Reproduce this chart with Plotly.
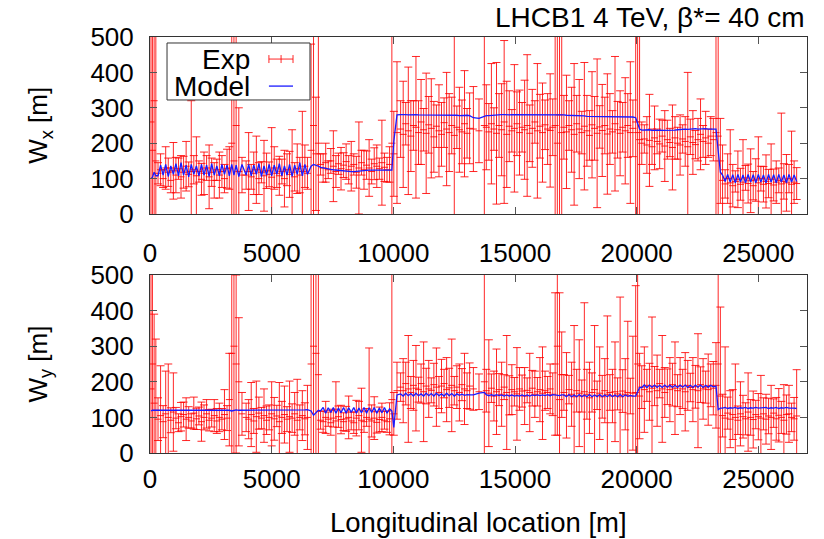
import plotly.graph_objects as go
from plotly.subplots import make_subplots

# ---------------- data ----------------
# longitudinal BPM positions [m]
s_pos = [
    40, 100, 170, 240,
    330, 435, 540, 645, 750, 855, 960, 1065, 1170, 1275, 1380, 1485, 1590, 1695, 1800, 1905, 2010, 2115, 2220, 2325,
    2430, 2535, 2640, 2745, 2850, 2955, 3060, 3165,
    3260, 3360, 3450, 3540, 3650, 3780,
    3950, 4055, 4160, 4265, 4370, 4475, 4580, 4685, 4790, 4895, 5000, 5105, 5210, 5315, 5420, 5525, 5630, 5735, 5840,
    5945, 6050, 6155, 6260, 6365, 6470,
    6620, 6720, 6820, 6920,
    7010, 7115, 7220, 7325, 7430, 7535, 7640, 7745, 7850, 7955, 8060, 8165, 8270, 8375, 8480, 8585, 8690, 8795, 8900,
    9005, 9110, 9215, 9320, 9425, 9530, 9635, 9740, 9845,
    9940, 10020, 10150,
    10300, 10405, 10510, 10615, 10720, 10825, 10930, 11035, 11140, 11245, 11350, 11455, 11560, 11665, 11770, 11875,
    11980, 12085, 12190, 12295, 12400, 12505, 12610, 12715, 12820, 12925, 13030, 13135,
    13290, 13520, 13740,
    13820, 13925, 14030, 14135, 14240, 14345, 14450, 14555, 14660, 14765, 14870, 14975, 15080, 15185, 15290, 15395,
    15500, 15605, 15710, 15815, 15920, 16025, 16130, 16235, 16340, 16445, 16550,
    16650, 16740, 16830, 16920,
    17010, 17115, 17220, 17325, 17430, 17535, 17640, 17745, 17850, 17955, 18060, 18165, 18270, 18375, 18480, 18585,
    18690, 18795, 18900, 19005, 19110, 19215, 19320, 19425, 19530, 19635, 19740, 19845,
    19960, 20040, 20120,
    20210, 20315, 20420, 20525, 20630, 20735, 20840, 20945, 21050, 21155, 21260, 21365, 21470, 21575, 21680, 21785,
    21890, 21995, 22100, 22205, 22310, 22415, 22520, 22625, 22730, 22835, 22940, 23045, 23150,
    23260, 23350, 23440,
    23530, 23635, 23740, 23845, 23950, 24055, 24160, 24265, 24370, 24475, 24580, 24685, 24790, 24895, 25000, 25105,
    25210, 25315, 25420, 25525, 25630, 25735, 25840, 25945, 26050, 26155, 26260, 26365, 26470, 26575,
]

# measured W_x [m] and its error
wx_exp = [
    260, 180, 320, 150,
    115, 125, 100, 130, 118, 95, 122, 110, 128, 105, 118, 135, 112, 120, 125, 108, 120, 98, 115, 130,
    105, 118, 95, 125, 110, 120, 100, 128,
    130, 200, 150, 250, 120, 110,
    110, 120, 105, 115, 125, 100, 118, 108, 122, 112, 104, 130, 115, 108, 120, 100, 125, 112, 118, 105,
    128, 110, 120, 135, 115,
    180, 250, 170, 200,
    140, 130, 145, 125, 150, 135, 120, 142, 128, 138, 148, 125, 135, 140, 118, 130, 145, 125, 138, 130,
    120, 142, 135, 128, 145, 132, 125, 140,
    200, 170, 230,
    240, 225, 255, 235, 220, 250, 245, 230, 260, 238, 228, 252, 242, 218, 248, 235, 225, 258, 240, 230,
    250, 222, 245, 238, 232, 255, 228, 242,
    240, 235, 250,
    245, 232, 255, 240, 228, 250, 238, 260, 225, 248, 235, 242, 255, 230, 245, 238, 250, 228, 242, 260,
    235, 248, 230, 252, 240, 236, 245,
    250, 200, 280, 230,
    245, 232, 250, 238, 225, 255, 240, 230, 248, 235, 222, 252, 242, 228, 246, 236, 250, 226, 240, 232,
    255, 238, 228, 245, 235, 250, 230, 242,
    260, 230, 210,
    200, 212, 195, 208, 190, 215, 205, 198, 220, 192, 210, 202, 188, 215, 200, 195, 212, 205, 190, 218,
    202, 196, 210, 225, 205, 215, 200, 220, 210,
    230, 220, 150,
    95, 85, 100, 88, 80, 92, 98, 84, 90, 102, 86, 94, 80, 96, 88, 100, 84, 92, 86, 98,
    82, 90, 95, 85, 92, 88, 100, 84, 90, 86,
]
wx_err = [
    600, 500, 700, 400,
    30, 45, 25, 60, 40, 35, 80, 50, 30, 60, 45, 70, 35, 200, 40, 110, 30, 45, 60, 35,
    90, 40, 50, 30, 65, 45, 40, 55,
    60, 320, 400, 300, 180, 50,
    40, 110, 35, 60, 95, 45, 30, 100, 50, 35, 140, 60, 40, 55, 35, 80, 45, 65, 120, 40,
    70, 50, 170, 60, 45,
    300, 400, 160, 350,
    30, 40, 55, 25, 35, 100, 45, 30, 60, 35, 50, 40, 70, 30, 45, 130, 35, 55, 40, 80,
    35, 45, 60, 30, 120, 40, 35, 50,
    400, 120, 200,
    80, 150, 60, 180, 100, 70, 200, 90, 120, 60, 170, 80, 140, 100, 60, 130, 90, 70, 160, 110,
    80, 350, 60, 120, 90, 150, 70, 100,
    120, 90, 400,
    120, 80, 170, 60, 200, 90, 130, 230, 150, 100, 60, 180, 90, 120, 70, 140, 200, 80, 110, 60,
    190, 90, 140, 70, 100, 160, 80,
    400, 350, 500, 300,
    90, 160, 70, 120, 200, 80, 140, 60, 180, 100, 70, 150, 90, 210, 60, 130, 80, 170, 100, 60,
    190, 80, 120, 70, 150, 90, 200, 80,
    400, 500, 450,
    60, 40, 80, 130, 50, 90, 35, 70, 45, 100, 55, 40, 120, 60, 45, 85, 40, 70, 210, 50,
    90, 40, 60, 100, 45, 75, 40, 55, 60,
    300, 400, 120,
    100, 40, 70, 150, 60, 30, 80, 45, 120, 35, 55, 90, 40, 60, 130, 35, 50, 75, 40, 100,
    45, 60, 35, 200, 50, 80, 40, 150, 60, 45,
]
# model W_x [m]
wx_model = [
    100, 104, 118, 108,
    108, 138, 110, 140, 106, 136, 112, 142, 108, 145, 110, 138, 105, 140, 112, 136, 108, 140, 110, 138,
    106, 142, 110, 136, 108, 140, 112, 138,
    108, 140, 110, 138, 106, 140,
    110, 140, 108, 138, 112, 142, 106, 136, 110, 140, 108, 138, 112, 142, 108, 136, 110, 140, 106, 138,
    112, 145, 108, 140, 112,
    135, 140, 138, 135,
    132, 130, 128, 127, 126, 125, 124, 124, 123, 122, 122, 121, 120, 120, 121, 122, 122, 123, 123, 124,
    124, 124, 125, 125, 124, 124, 124, 125,
    124, 205, 280,
    281, 282, 281, 280, 281, 282, 281, 280, 280, 279, 280, 281, 280, 279, 280, 280, 281, 280, 279, 280,
    281, 280, 279, 278, 279, 280, 279, 278,
    272, 270, 276,
    278, 278, 279, 280, 280, 280, 281, 281, 280, 280, 281, 281, 281, 280, 280, 281, 281, 282, 281, 281,
    280, 281, 282, 281, 280, 280, 281,
    281, 282, 280, 280,
    280, 279, 279, 278, 278, 278, 277, 277, 277, 276, 276, 276, 276, 276, 275, 275, 275, 275, 275, 274,
    274, 274, 274, 275, 275, 275, 274, 274,
    272, 258, 240,
    237, 238, 237, 238, 236, 237, 236, 237, 236, 236, 235, 237, 236, 237, 238, 239, 238, 240, 239, 240,
    239, 241, 240, 241, 240, 241, 240, 241, 240,
    240, 180, 118,
    110, 92, 112, 90, 111, 88, 112, 90, 110, 88, 112, 90, 111, 88, 112, 90, 110, 88, 112, 90,
    111, 88, 112, 90, 110, 88, 112, 90, 110, 92,
]

# measured W_y [m] and its error
wy_exp = [
    180, 250, 140, 120,
    95, 105, 88, 110, 100, 92, 115, 98, 85, 102, 108, 95, 100, 90, 112, 96, 104, 88, 100, 110,
    92, 98, 105, 90, 100, 95, 108, 98,
    150, 280, 300, 250, 200, 110,
    100, 95, 108, 90, 102, 112, 98, 105, 92, 100, 110, 96, 104, 88, 100, 108, 95, 102, 98, 110,
    92, 100, 105, 96, 100,
    250, 300, 280, 220,
    92, 88, 100, 95, 85, 98, 90, 102, 94, 88, 96, 100, 90, 85, 98, 105, 92, 88, 100, 95,
    90, 98, 86, 94, 100, 92, 88, 96,
    150, 110, 175,
    185, 175, 195, 180, 170, 190, 182, 178, 195, 172, 188, 180, 176, 192, 185, 170, 188, 195, 178, 183,
    190, 175, 185, 170, 192, 180, 175, 188,
    180, 172, 200,
    175, 168, 182, 160, 172, 178, 165, 185, 170, 162, 178, 172, 166, 180, 174, 160, 176, 170, 182, 165,
    172, 178, 168, 175, 170, 180, 165,
    250, 300, 150, 220,
    170, 162, 178, 165, 158, 175, 168, 160, 172, 165, 155, 170, 178, 162, 168, 158, 175, 165, 170, 160,
    172, 166, 158, 174, 165, 170, 160, 168,
    170, 250, 160,
    185, 178, 190, 172, 182, 188, 175, 195, 180, 170, 186, 178, 192, 182, 175, 188, 180, 172, 190, 184,
    178, 186, 175, 192, 180, 185, 178, 190, 182,
    190, 250, 160,
    105, 98, 112, 95, 108, 100, 92, 110, 102, 96, 115, 100, 94, 108, 102, 98, 110, 95, 104, 100,
    112, 96, 106, 100, 92, 108, 110, 100, 96, 104,
]
wy_err = [
    350, 300, 250, 200,
    60, 140, 45, 120, 150, 35, 110, 30, 25, 40, 35, 60, 30, 20, 45, 30, 25, 55, 35, 40,
    30, 25, 45, 35, 40, 30, 70, 35,
    130, 300, 350, 250, 180, 60,
    40, 55, 90, 35, 100, 45, 30, 75, 40, 35, 90, 60, 30, 110, 45, 80, 35, 100, 40, 60,
    115, 35, 70, 45, 90,
    400, 450, 400, 300,
    25, 30, 45, 20, 35, 25, 110, 30, 40, 25, 35, 60, 25, 30, 50, 40, 90, 30, 25, 200,
    45, 60, 30, 35, 40, 25, 30, 45,
    400, 60, 80,
    40, 90, 60, 150, 45, 70, 120, 35, 55, 140, 50, 80, 35, 60, 110, 45, 75, 40, 90, 55,
    130, 40, 60, 80, 45, 100, 50, 65,
    60, 50, 320,
    60, 150, 40, 70, 120, 45, 90, 35, 160, 55, 70, 40, 130, 60, 45, 80, 35, 110, 50, 65,
    40, 90, 130, 55, 45, 70, 60,
    200, 250, 300, 120,
    50, 120, 40, 90, 200, 60, 150, 45, 250, 70, 100, 55, 180, 40, 130, 60, 90, 220, 50, 75,
    140, 45, 280, 60, 100, 200, 50, 160,
    300, 500, 120,
    60, 120, 45, 80, 200, 55, 100, 40, 150, 70, 50, 90, 60, 130, 45, 80, 55, 110, 70, 40,
    90, 60, 160, 50, 85, 45, 100, 60, 75,
    120, 500, 250,
    60, 200, 45, 80, 70, 150, 40, 90, 60, 45, 110, 50, 80, 40, 65, 120, 45, 70, 50, 90,
    40, 60, 75, 45, 100, 55, 80, 40, 60, 130,
]
# model W_y [m]
wy_model = [
    118, 120, 120, 120,
    120, 120, 121, 120, 119, 120, 120, 121, 120, 120, 120, 119, 120, 120, 121, 120, 120, 120, 119, 120,
    120, 121, 120, 120, 120, 119, 120, 120,
    120, 118, 120, 121, 120, 120,
    120, 120, 119, 120, 120, 121, 120, 120, 120, 119, 120, 120, 121, 120, 120, 120, 119, 120, 120, 121,
    120, 120, 120, 121, 122,
    118, 106, 112, 120,
    118, 128, 112, 127, 114, 128, 112, 126, 113, 128, 112, 127, 114, 128, 112, 126, 113, 128, 112, 127,
    114, 128, 112, 126, 113, 128, 112, 124,
    118, 72, 163,
    166, 160, 168, 161, 167, 160, 168, 161, 166, 160, 168, 161, 167, 160, 168, 161, 166, 160, 168, 161,
    167, 160, 166, 162, 165, 162, 164, 163,
    163, 168, 170,
    164, 161, 164, 161, 164, 161, 163, 160, 163, 160, 163, 160, 162, 160, 163, 160, 163, 160, 163, 161,
    163, 161, 163, 161, 164, 161, 164,
    163, 162, 161, 163,
    163, 158, 164, 158, 163, 158, 164, 158, 163, 158, 164, 158, 163, 158, 164, 158, 163, 158, 164, 158,
    163, 158, 164, 158, 163, 159, 162, 160,
    160, 172, 184,
    184, 191, 184, 191, 185, 191, 184, 190, 184, 191, 185, 191, 184, 190, 184, 191, 185, 191, 184, 190,
    184, 191, 185, 191, 184, 190, 185, 190, 186,
    188, 122, 126,
    126, 128, 125, 127, 126, 128, 125, 127, 126, 128, 125, 127, 126, 128, 126, 127, 126, 128, 125, 127,
    126, 128, 125, 127, 126, 128, 126, 127, 126, 125,
]

x_ticks = [0, 5000, 10000, 15000, 20000, 25000]
y_ticks = [0, 100, 200, 300, 400, 500]
title_text = "LHCB1 4 TeV, β*= 40 cm"
x_title = "Longitudinal location [m]"
y_titles = ["W<sub>x</sub> [m]", "W<sub>y</sub> [m]"]
legend_labels = ["Exp", "Model"]

n = len(s_pos)
for arr in (wx_exp, wx_err, wx_model, wy_exp, wy_err, wy_model):
    assert len(arr) == n, (len(arr), n)

# ---------------- figure ----------------
FONT = "Liberation Sans, Arial, Helvetica, sans-serif"
RED = "rgba(255,0,0,0.85)"
BLUE = "#1a1aff"

fig = make_subplots(rows=2, cols=1)

for row, (yv, ye, ym) in enumerate([(wx_exp, wx_err, wx_model), (wy_exp, wy_err, wy_model)], start=1):
    fig.add_trace(go.Scatter(
        x=s_pos, y=yv, mode="markers", name=legend_labels[0], showlegend=False,
        marker=dict(symbol="line-ew-open", size=5, color=RED, line=dict(color=RED, width=1)),
        error_y=dict(type="data", array=ye, symmetric=True, color=RED, thickness=1, width=4),
    ), row=row, col=1)
    fig.add_trace(go.Scatter(
        x=s_pos, y=ym, mode="lines", name=legend_labels[1], showlegend=False,
        line=dict(color=BLUE, width=1.3),
    ), row=row, col=1)

axis_common = dict(
    showline=True, linecolor="#333333", linewidth=1, mirror="ticks",
    ticks="inside", ticklen=7, tickcolor="#555555", tickwidth=1,
    showgrid=False, zeroline=False,
    tickfont=dict(family=FONT, size=26, color="black"),
)
fig.update_xaxes(range=[0, 27000], tickvals=x_ticks, ticktext=[str(v) for v in x_ticks], **axis_common)
fig.update_yaxes(range=[0, 500], tickvals=y_ticks, ticktext=[str(v) for v in y_ticks],
                 ticklabelstandoff=10, **axis_common)
fig.update_layout(
    xaxis=dict(ticklabelstandoff=16),
    xaxis2=dict(ticklabelstandoff=3),
    yaxis=dict(domain=[0.5745, 1.0]),
    yaxis2=dict(domain=[0.0, 0.4279]),
)

# manual gnuplot-style key (text left, sample right) inside the top panel
LBOX = dict(x0=0.0259, x1=0.2435, y0=0.8486, y1=0.9856)
shapes = [
    dict(type="rect", xref="paper", yref="paper", **LBOX,
         line=dict(color="#333333", width=1), fillcolor="white", layer="above"),
]
ey_, my_ = 0.947, 0.882
sx0, sx1, sxm, cap = 0.181, 0.2177, 0.1995, 0.0096
shapes += [
    dict(type="line", xref="paper", yref="paper", x0=sx0, x1=sx1, y0=ey_, y1=ey_, line=dict(color=RED, width=1), layer="above"),
    dict(type="line", xref="paper", yref="paper", x0=sx0, x1=sx0, y0=ey_ - cap, y1=ey_ + cap, line=dict(color=RED, width=1), layer="above"),
    dict(type="line", xref="paper", yref="paper", x0=sx1, x1=sx1, y0=ey_ - cap, y1=ey_ + cap, line=dict(color=RED, width=1), layer="above"),
    dict(type="line", xref="paper", yref="paper", x0=sxm, x1=sxm, y0=ey_ - cap, y1=ey_ + cap, line=dict(color=RED, width=1), layer="above"),
    dict(type="line", xref="paper", yref="paper", x0=sx0, x1=sx1, y0=my_, y1=my_, line=dict(color=BLUE, width=1.3), layer="above"),
]

ann_font = dict(family=FONT, size=26, color="black")
big_font = dict(family=FONT, size=28, color="black")
annotations = [
    dict(text=legend_labels[0], xref="paper", yref="paper", x=0.1553, y=ey_, xanchor="right", yanchor="middle",
         showarrow=False, font=big_font),
    dict(text=legend_labels[1], xref="paper", yref="paper", x=0.1553, y=my_, xanchor="right", yanchor="middle",
         showarrow=False, font=big_font),
    dict(text=title_text, xref="paper", yref="paper", x=1.0, y=1.046, xanchor="right", yanchor="middle",
         showarrow=False, font=big_font),
    dict(text=y_titles[0], xref="paper", yref="paper", x=-0.168, y=0.788, xanchor="center", yanchor="middle",
         textangle=-90, showarrow=False, font=ann_font),
    dict(text=y_titles[1], xref="paper", yref="paper", x=-0.168, y=0.214, xanchor="center", yanchor="middle",
         textangle=-90, showarrow=False, font=ann_font),
    dict(text=x_title, xref="paper", yref="paper", x=0.5, y=-0.168, xanchor="center", yanchor="middle",
         showarrow=False, font=dict(family=FONT, size=27.5, color="black")),
]

fig.update_layout(
    width=824, height=539,
    margin=dict(l=150, r=17, t=37, b=86),
    paper_bgcolor="white", plot_bgcolor="white",
    showlegend=False, hovermode=False,
    shapes=shapes, annotations=annotations,
    font=dict(family=FONT, size=26, color="black"),
)

fig.write_html("out.html", config={"displayModeBar": False},
               post_script="document.body.style.margin='0px';")
